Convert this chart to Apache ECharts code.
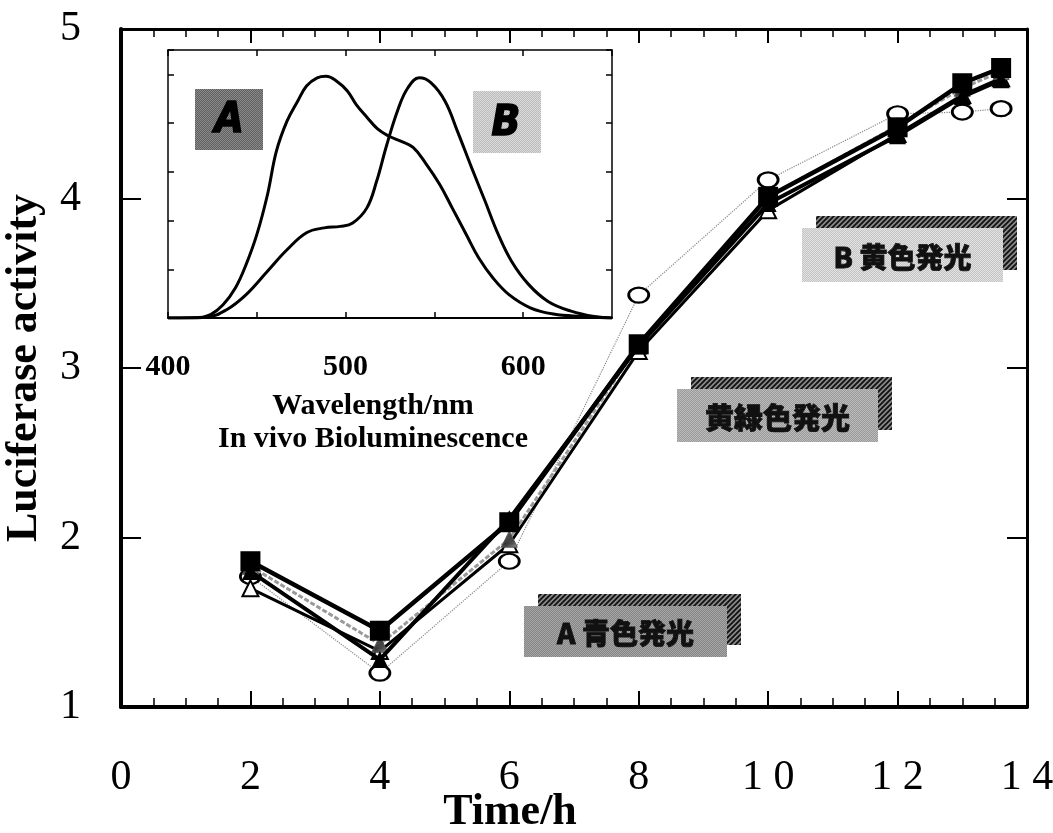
<!DOCTYPE html>
<html>
<head>
<meta charset="utf-8">
<script src="https://cdn.jsdelivr.net/npm/echarts@6/dist/echarts.min.js"></script>
<style>
html,body{margin:0;padding:0;background:#fff;}
#chart{width:1053px;height:833px;}
</style>
</head>
<body>
<div id="chart"></div>
<script>
// ---------- data ----------
const timeH = [2, 4, 6, 8, 10, 12, 13, 13.6];
const squareVals = [1.86, 1.45, 2.09, 3.14, 4.01, 4.42, 4.68, 4.77];
const filledTriVals = [1.80, 1.28, 2.11, 3.13, 3.97, 4.37, 4.60, 4.70];
const openTriVals = [1.70, 1.33, 1.96, 3.10, 3.93, 4.38, 4.61, 4.71];
const hatchedVals = [1.83, 1.37, 1.99, 3.14, 4.01, 4.43, 4.65, 4.75];
const circleVals = [1.77, 1.20, 1.86, 3.43, 4.11, 4.50, 4.51, 4.53];

const xTickValues = [0, 2, 4, 6, 8, 10, 12, 14];
const xTickLabels = ['0', '2', '4', '6', '8', '1 0', '1 2', '1 4'];
const yTickValues = [1, 2, 3, 4, 5];
const yTickLabels = ['1', '2', '3', '4', '5'];

// inset spectra (wavelength nm, relative intensity)
const specA_nm = [400, 416, 424, 431, 438, 444, 450, 456, 461, 467, 473, 478, 484, 489, 495, 501, 506, 512, 518, 524, 531, 538, 545, 553, 560, 568, 575, 583, 592, 604, 617, 633, 650];
const specA_val = [0, 0, 0.07, 0.27, 0.62, 1.10, 1.71, 2.53, 3.42, 4.04, 4.45, 4.76, 4.93, 4.96, 4.86, 4.66, 4.38, 4.12, 3.88, 3.74, 3.63, 3.50, 3.18, 2.74, 2.26, 1.71, 1.23, 0.82, 0.48, 0.21, 0.08, 0.03, 0];
const specB_nm = [400, 422, 433, 444, 456, 467, 478, 488, 497, 504, 512, 517.5, 523, 529.5, 535, 541.5, 548, 556, 563, 571, 578.5, 586, 593.5, 603, 614, 627, 640, 650];
const specB_val = [0, 0.02, 0.17, 0.48, 0.96, 1.40, 1.75, 1.85, 1.88, 1.95, 2.26, 2.81, 3.53, 4.28, 4.72, 4.93, 4.83, 4.45, 3.83, 3.08, 2.40, 1.71, 1.16, 0.69, 0.34, 0.14, 0.03, 0];
const insetTickValues = [400, 500, 600];
const insetTickLabels = ['400', '500', '600'];

const insetTitle = 'Wavelength/nm\nIn vivo Bioluminescence';
const labelB = 'B 黄色発光';
const labelYG = '黄緑色発光';
const labelA = 'A 青色発光';

// ---------- helpers ----------
function zip(xs, ys) { return xs.map((x, i) => [x, ys[i]]); }
function hatch(fg, bg) {
  const c = document.createElement('canvas'); c.width = c.height = 5;
  const g = c.getContext('2d');
  g.fillStyle = bg; g.fillRect(0, 0, 5, 5);
  g.strokeStyle = fg; g.lineWidth = 1.8; g.beginPath();
  g.moveTo(0, 5); g.lineTo(5, 0); g.moveTo(-2.5, 2.5); g.lineTo(2.5, -2.5); g.moveTo(2.5, 7.5); g.lineTo(7.5, 2.5);
  g.stroke();
  return { image: c, repeat: 'repeat' };
}
function checker(a, b) {
  const c = document.createElement('canvas'); c.width = c.height = 2;
  const g = c.getContext('2d');
  g.fillStyle = a; g.fillRect(0, 0, 2, 2);
  g.fillStyle = b; g.fillRect(0, 0, 1, 1); g.fillRect(1, 1, 1, 1);
  return { image: c, repeat: 'repeat' };
}
function fmtFrom(vals, labels) {
  return function (v) { const i = vals.findIndex(t => Math.abs(t - v) < 1e-6); return i >= 0 ? labels[i] : ''; };
}
const serif = 'Liberation Serif, Times New Roman, serif';
const cjk = 'Noto Sans CJK JP, sans-serif';
const heavy = 'Liberation Sans Narrow, DejaVu Sans Condensed, sans-serif';

const chart = echarts.init(document.getElementById('chart'), null, { renderer: 'canvas' });

function tagBox(x, y, w, h, fill, text, fs) {
  return [
    { type: 'rect', shape: { x: x + 14, y: y - 12, width: w, height: h }, style: { fill: hatch('#111', '#8a8a8a') }, silent: true, z: 50 },
    { type: 'rect', shape: { x: x, y: y, width: w, height: h }, style: { fill: fill }, silent: true, z: 51 },
    { type: 'text', x: x + w / 2, y: y + h / 2 + 2, style: { text: text, fill: '#111', font: '900 ' + fs + 'px ' + cjk, align: 'center', verticalAlign: 'middle', textAlign: 'center', textVerticalAlign: 'middle', stroke: '#111', lineWidth: 0.8 }, silent: true, z: 52 }
  ];
}

const option = {
  animation: false,
  backgroundColor: '#fff',
  grid: [
    { left: 121, top: 29, right: 26, bottom: 126, containLabel: false, outerBoundsMode: 'none' },
    { left: 168, top: 50, width: 444, height: 268, containLabel: false, outerBoundsMode: 'none' }
  ],
  xAxis: [
    {
      gridIndex: 0, type: 'value', position: 'bottom', min: 0, max: 14, interval: 2,
      axisLine: { onZero: false, lineStyle: { color: '#000', width: 4 } },
      axisTick: { inside: true, length: 16, lineStyle: { color: '#000', width: 2 } },
      minorTick: { show: true, splitNumber: 4, length: 9, lineStyle: { color: '#000', width: 1.5 } },
      splitLine: { show: false }, minorSplitLine: { show: false },
      axisLabel: { margin: 50, fontSize: 42, fontFamily: serif, color: '#000', formatter: fmtFrom(xTickValues, xTickLabels) },
      name: 'Time/h', nameLocation: 'middle', nameGap: 84, nameMoveOverlap: false,
      nameTextStyle: { fontSize: 44, fontWeight: 'bold', fontFamily: serif, color: '#000', padding: [0, 128, 0, 0] }
    },
    {
      gridIndex: 0, type: 'value', position: 'top', min: 0, max: 14, interval: 2,
      axisLine: { onZero: false, lineStyle: { color: '#000', width: 3 } },
      axisTick: { inside: true, length: 14, lineStyle: { color: '#000', width: 2 } },
      minorTick: { show: true, splitNumber: 4, length: 8, lineStyle: { color: '#000', width: 1.5 } },
      splitLine: { show: false }, axisLabel: { show: false }
    },
    {
      gridIndex: 1, type: 'value', position: 'bottom', min: 400, max: 650, interval: 50,
      axisLine: { onZero: false, lineStyle: { color: '#000', width: 2 } },
      axisTick: { inside: true, length: 6, lineStyle: { color: '#000', width: 1.5 } },
      splitLine: { show: false },
      axisLabel: { margin: 34, fontSize: 30, fontWeight: 'bold', fontFamily: serif, color: '#000', formatter: fmtFrom(insetTickValues, insetTickLabels), showMaxLabel: false },
      name: insetTitle, nameLocation: 'middle', nameGap: 72, nameMoveOverlap: false,
      nameTextStyle: { fontSize: 30, fontWeight: 'bold', fontFamily: serif, color: '#000', lineHeight: 33, padding: [0, 34, 0, 0] }
    },
    {
      gridIndex: 1, type: 'value', position: 'top', min: 400, max: 650, interval: 50,
      axisLine: { onZero: false, lineStyle: { color: '#000', width: 1.5 } },
      axisTick: { inside: true, length: 6, lineStyle: { color: '#000', width: 1.5 } },
      splitLine: { show: false }, axisLabel: { show: false }
    }
  ],
  yAxis: [
    {
      gridIndex: 0, type: 'value', position: 'left', min: 1, max: 5, interval: 1,
      axisLine: { onZero: false, lineStyle: { color: '#000', width: 4 } },
      axisTick: { inside: true, length: 20, lineStyle: { color: '#000', width: 2 } },
      splitLine: { show: false },
      axisLabel: { margin: 40, fontSize: 42, fontFamily: serif, color: '#000', formatter: fmtFrom(yTickValues, yTickLabels) },
      name: 'Luciferase activity', nameLocation: 'middle', nameGap: 74, nameMoveOverlap: false,
      nameTextStyle: { fontSize: 44, fontWeight: 'bold', fontFamily: serif, color: '#000' }
    },
    {
      gridIndex: 0, type: 'value', position: 'right', min: 1, max: 5, interval: 1,
      axisLine: { onZero: false, lineStyle: { color: '#000', width: 3 } },
      axisTick: { inside: true, length: 20, lineStyle: { color: '#000', width: 2 } },
      splitLine: { show: false }, axisLabel: { show: false }
    },
    {
      gridIndex: 1, type: 'value', position: 'left', min: 0, max: 5.5, interval: 1,
      axisLine: { onZero: false, lineStyle: { color: '#000', width: 1.5 } },
      axisTick: { inside: true, length: 6, lineStyle: { color: '#000', width: 1.5 } },
      splitLine: { show: false }, axisLabel: { show: false }
    },
    {
      gridIndex: 1, type: 'value', position: 'right', min: 0, max: 5.5, interval: 1,
      axisLine: { onZero: false, lineStyle: { color: '#000', width: 1.5 } },
      axisTick: { inside: true, length: 6, lineStyle: { color: '#000', width: 1.5 } },
      splitLine: { show: false }, axisLabel: { show: false }
    }
  ],
  series: [
    {
      name: 'open circle', type: 'line', xAxisIndex: 0, yAxisIndex: 0, z: 2,
      data: zip(timeH, circleVals), symbol: 'circle', symbolSize: [20, 15],
      itemStyle: { color: '#fff', borderColor: '#000', borderWidth: 2.5 },
      lineStyle: { color: '#888', width: 1.2, type: 'dotted' }
    },
    {
      name: 'open triangle', type: 'line', xAxisIndex: 0, yAxisIndex: 0, z: 3,
      data: zip(timeH, openTriVals), symbol: 'triangle', symbolSize: 16,
      itemStyle: { color: '#fff', borderColor: '#000', borderWidth: 2 },
      lineStyle: { color: '#000', width: 3 }
    },
    {
      name: 'hatched', type: 'line', xAxisIndex: 0, yAxisIndex: 0, z: 4,
      data: zip(timeH, hatchedVals), symbol: 'triangle', symbolSize: 16,
      itemStyle: { color: hatch('#333', '#bbb'), borderColor: '#555', borderWidth: 1 },
      lineStyle: { color: '#9a9a9a', width: 3, type: [5, 2] }
    },
    {
      name: 'filled triangle', type: 'line', xAxisIndex: 0, yAxisIndex: 0, z: 5,
      data: zip(timeH, filledTriVals), symbol: 'triangle', symbolSize: 17,
      itemStyle: { color: '#000' },
      lineStyle: { color: '#000', width: 4 }
    },
    {
      name: 'filled square', type: 'line', xAxisIndex: 0, yAxisIndex: 0, z: 6,
      data: zip(timeH, squareVals), symbol: 'rect', symbolSize: 20,
      itemStyle: { color: '#000' },
      lineStyle: { color: '#000', width: 4.5 }
    },
    {
      name: 'A spectrum', type: 'line', xAxisIndex: 2, yAxisIndex: 2, smooth: 0.4,
      data: zip(specA_nm, specA_val), showSymbol: false, symbol: 'none',
      lineStyle: { color: '#000', width: 3 }
    },
    {
      name: 'B spectrum', type: 'line', xAxisIndex: 2, yAxisIndex: 2, smooth: 0.4,
      data: zip(specB_nm, specB_val), showSymbol: false, symbol: 'none',
      lineStyle: { color: '#000', width: 3 }
    }
  ],
  graphic: [].concat(
    tagBox(802, 228, 201, 54, checker('#c4c4c4', '#e2e2e2'), labelB, 28),
    tagBox(677, 389, 201, 53, checker('#9a9a9a', '#bcbcbc'), labelYG, 29),
    tagBox(524, 606, 203, 51, checker('#868686', '#a6a6a6'), labelA, 28),
    [
      { type: 'rect', shape: { x: 195, y: 89, width: 68, height: 61 }, style: { fill: checker('#606060', '#8a8a8a') }, silent: true, z: 50 },
      { type: 'text', x: 229, y: 121, style: { text: 'A', fill: '#000', font: 'italic 900 42px ' + heavy, align: 'center', verticalAlign: 'middle', textAlign: 'center', textVerticalAlign: 'middle', stroke: '#000', lineWidth: 1.5 }, silent: true, z: 51 },
      { type: 'rect', shape: { x: 473, y: 91, width: 68, height: 62 }, style: { fill: checker('#bcbcbc', '#dadada') }, silent: true, z: 50 },
      { type: 'text', x: 506, y: 124, style: { text: 'B', fill: '#000', font: 'italic 900 42px ' + heavy, align: 'center', verticalAlign: 'middle', textAlign: 'center', textVerticalAlign: 'middle', stroke: '#000', lineWidth: 1.5 }, silent: true, z: 51 }
    ]
  )
};
chart.setOption(option);
</script>
</body>
</html>
